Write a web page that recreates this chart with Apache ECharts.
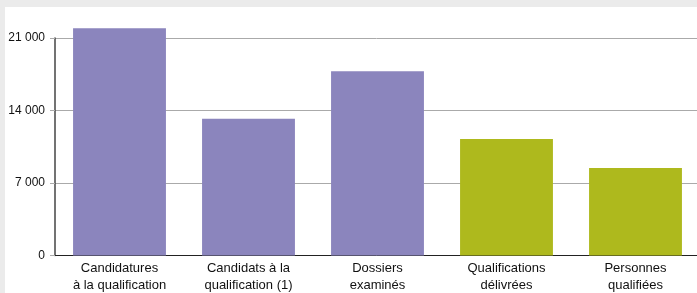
<!DOCTYPE html>
<html>
<head>
<meta charset="utf-8">
<script src="https://cdn.jsdelivr.net/npm/echarts@6/dist/echarts.min.js"></script>
<style>
  html, body { margin: 0; padding: 0; background: #ebebeb; }
  #main { position: absolute; left: 5px; top: 7px; width: 692px; height: 286px; background: #fff; }
</style>
</head>
<body>
<div id="main"></div>
<script>
var categories = ['Candidatures\nà la qualification', 'Candidats à la\nqualification (1)', 'Dossiers\nexaminés', 'Qualifications\ndélivrées', 'Personnes\nqualifiées'];
var values = [21950, 13200, 17800, 11250, 8450];
var barColors = ['#8b85bd', '#8b85bd', '#8b85bd', '#aeb91d', '#aeb91d'];
var yTicks = [0, 7000, 14000, 21000];

(function () {
  var myChart = echarts.init(document.getElementById('main'));
  var option = {
    animation: false,
    textStyle: { fontFamily: '"Liberation Sans", Arial, sans-serif' },
    grid: { left: 50, top: 31, width: 645, height: 217.5, outerBoundsMode: 'none', containLabel: false },
    xAxis: {
      type: 'category',
      data: categories,
      axisTick: { show: false },
      axisLine: { lineStyle: { color: '#222', width: 1 } },
      axisLabel: { color: '#111', fontSize: 13, lineHeight: 17, margin: 4, interval: 0 }
    },
    yAxis: {
      type: 'value',
      min: 0,
      max: yTicks[yTicks.length - 1],
      interval: 7000,
      axisLine: { show: true, lineStyle: { color: '#444', width: 1.5 } },
      axisTick: { show: true, length: 5, lineStyle: { color: '#aaa' } },
      splitLine: { lineStyle: { color: '#aaa' } },
      axisLabel: {
        color: '#111', fontSize: 12, margin: 10,
        formatter: function (v) {
          return String(v).replace(/\B(?=(\d{3})+(?!\d))/g, ' ');
        }
      }
    },
    series: [{
      type: 'bar',
      clip: false,
      barWidth: '72%',
      data: values.map(function (v, i) {
        return { value: v, itemStyle: { color: barColors[i] } };
      })
    }]
  };
  myChart.setOption(option);
})();
</script>
</body>
</html>
